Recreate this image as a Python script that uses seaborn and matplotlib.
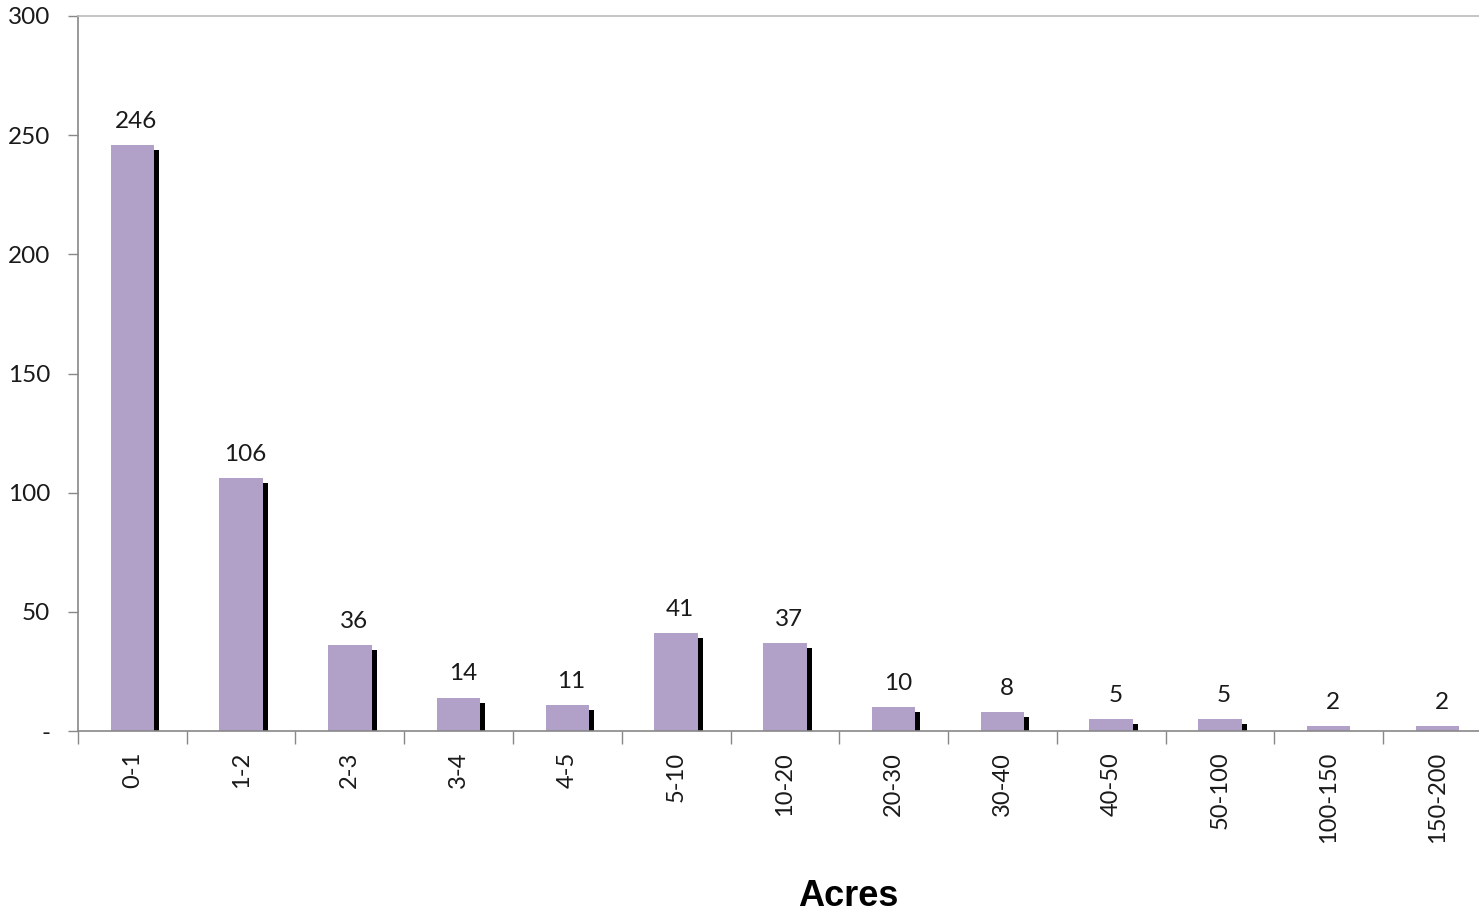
import matplotlib
matplotlib.use("Agg")
import matplotlib.pyplot as plt
import matplotlib.patheffects as pe
import seaborn as sns
import pandas as pd
from matplotlib.ticker import FixedLocator

categories = ["0-1", "1-2", "2-3", "3-4", "4-5", "5-10", "10-20", "20-30",
              "30-40", "40-50", "50-100", "100-150", "150-200"]
counts = [246, 106, 36, 14, 11, 41, 37, 10, 8, 5, 5, 2, 2]
y_ticks = [0, 50, 100, 150, 200, 250, 300]
y_tick_labels = ["-", "50", "100", "150", "200", "250", "300"]

df = pd.DataFrame({"Acres": categories, "Count": counts})

sns.set_theme(style="white")
plt.rcParams["font.family"] = ["Lato", "DejaVu Sans"]

fig = plt.figure(figsize=(14.79, 9.14), dpi=100)
ax = fig.add_axes([0.0527, 0.2002, 0.956, 0.7823])

sns.barplot(data=df, x="Acres", y="Count", color="#b1a0c7", saturation=1,
            width=0.4, ax=ax, errorbar=None)

for p in ax.patches:
    p.set_path_effects([pe.SimplePatchShadow(offset=(3.6, -3.6),
                                             shadow_rgbFace="black", alpha=1.0),
                        pe.Normal()])
    p.set_linewidth(0)

for i, v in enumerate(counts):
    ax.annotate(str(v), xy=(i, v), xytext=(3, 9.5), textcoords="offset points",
                ha="center", va="bottom", fontsize=17.5, color="#1a1a1a")

ax.set_xlim(-0.5, len(categories) - 0.5)
ax.set_ylim(0, 300)
ax.set_yticks(y_ticks)
ax.set_yticklabels(y_tick_labels, fontsize=17.5, color="#1a1a1a")
ax.tick_params(axis="y", which="major", direction="out", length=7, width=1,
               color="#888888", left=True, pad=13)

ax.set_xticks(range(len(categories)))
ax.set_xticklabels(categories, rotation=90, fontsize=17, color="#1a1a1a")
ax.tick_params(axis="x", which="major", length=0, pad=15)
ax.xaxis.set_minor_locator(FixedLocator([i - 0.5 for i in range(len(categories) + 1)]))
ax.tick_params(axis="x", which="minor", direction="out", length=9, width=1,
               color="#888888", bottom=True)

ax.set_ylabel("")
ax.set_xlabel("")
fig.text(848 / 1479, 1 - 896 / 914, "Acres", fontsize=26, fontweight="bold",
         family="Liberation Sans", ha="center", va="center", color="black")

for side in ["left", "bottom"]:
    ax.spines[side].set_color("#888888")
    ax.spines[side].set_linewidth(1.2)
ax.spines["top"].set_color("#bbbbbb")
ax.spines["top"].set_linewidth(1.2)
ax.spines["right"].set_visible(False)

fig.savefig("out.png", dpi=100)
